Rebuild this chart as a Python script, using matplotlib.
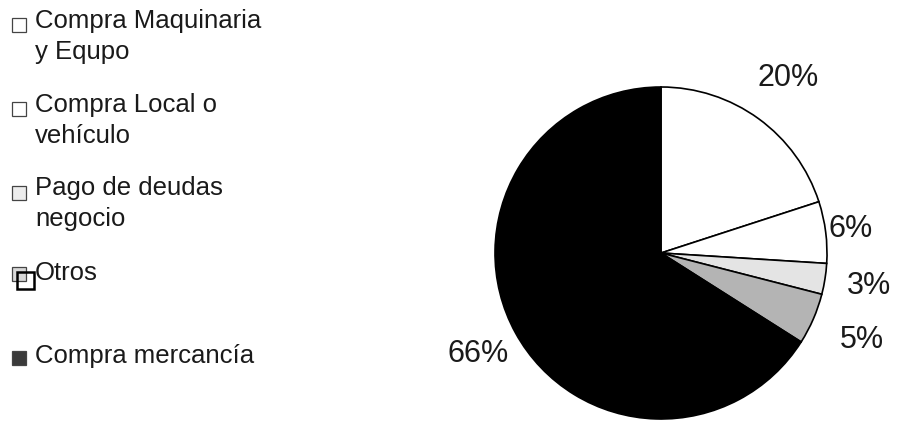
import matplotlib.pyplot as plt
import numpy as np
from matplotlib.patches import Rectangle

plt.rcParams['font.family'] = ['Liberation Sans', 'DejaVu Sans']

# data
categories = ["Compra Maquinaria\ny Equpo", "Compra Local o\nvehículo", "Pago de deudas\nnegocio",
              "Otros", "Compra mercancía"]
values = [20, 6, 3, 5, 66]
colors = ["#ffffff", "#ffffff", "#e4e4e4", "#b4b4b4", "#000000"]
legend_colors = ["#ffffff", "#ffffff", "#ececec", "#d8d8d8", "#3a3a3a"]

fig = plt.figure(figsize=(9.05, 4.29), dpi=100)

# pie, center ~ (661, 253) px, radius ~166 px
W, H = 905, 429
cx, cy, r = 661, 253, 166
ax = fig.add_axes([(cx - r) / W, (H - cy - r) / H, 2 * r / W, 2 * r / H])
wedges, _ = ax.pie(values, colors=colors, startangle=90, counterclock=False,
                   wedgeprops=dict(edgecolor="black", linewidth=1.2))
ax.set_xlim(-1, 1)
ax.set_ylim(-1, 1)
ax.set_aspect('equal')
ax.axis('off')

label_dist = [1.30, 1.15, 1.27, 1.32, 1.26]
for w, v, d in zip(wedges, values, label_dist):
    ang = np.deg2rad((w.theta1 + w.theta2) / 2)
    ax.text(d * np.cos(ang), d * np.sin(ang), f"{v}%", fontsize=22,
            ha='center', va='center', color="#1a1a1a", clip_on=False)

# legend drawn by hand (uneven spacing in the original)
lax = fig.add_axes([0, 0, 1, 1])
lax.set_xlim(0, W)
lax.set_ylim(H, 0)
lax.axis('off')
lax.patch.set_alpha(0)

marker_y = [18, 102, 186, 267, 351]
text_y = [28, 112, 195, 280, 363]
for i, (lab, col) in enumerate(zip(categories, legend_colors)):
    lax.add_patch(Rectangle((12, marker_y[i]), 14, 14, facecolor=col,
                            edgecolor="#444444", linewidth=0.9))
    for k, line in enumerate(lab.split("\n")):
        lax.text(35, text_y[i] + 31 * k, line, fontsize=18.5, ha='left',
                 va='baseline', color="#1a1a1a")
# extra outlined box over the "Otros" marker
lax.add_patch(Rectangle((17, 272), 17, 17, facecolor='none',
                        edgecolor="black", linewidth=1.8))

fig.savefig("out.png", dpi=100)
